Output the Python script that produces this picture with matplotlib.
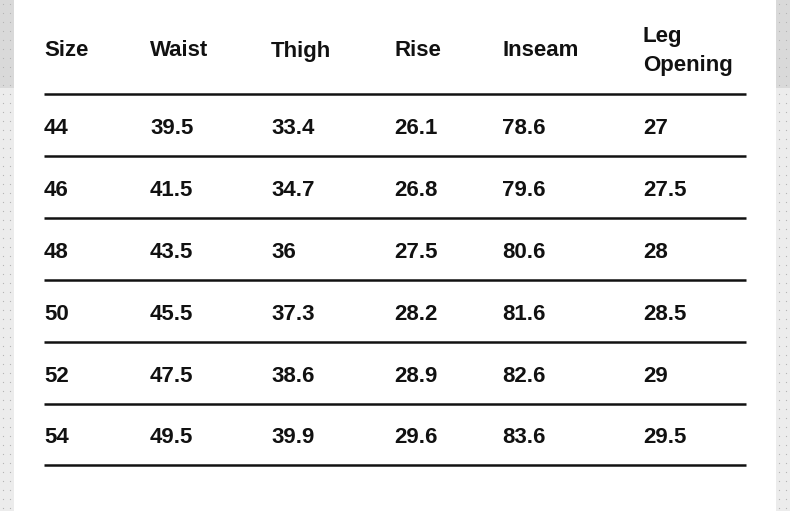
import matplotlib.pyplot as plt
from matplotlib.patches import Rectangle

headers = ["Size", "Waist", "Thigh", "Rise", "Inseam", "Leg\nOpening"]
sizes = ["44", "46", "48", "50", "52", "54"]
waist = ["39.5", "41.5", "43.5", "45.5", "47.5", "49.5"]
thigh = ["33.4", "34.7", "36", "37.3", "38.6", "39.9"]
rise = ["26.1", "26.8", "27.5", "28.2", "28.9", "29.6"]
inseam = ["78.6", "79.6", "80.6", "81.6", "82.6", "83.6"]
leg_opening = ["27", "27.5", "28", "28.5", "29", "29.5"]

W, H = 790, 511
fig = plt.figure(figsize=(W / 100, H / 100), dpi=100)
ax = fig.add_axes([0, 0, 1, 1])
ax.set_xlim(0, W)
ax.set_ylim(H, 0)
ax.axis("off")

# grey dotted side strips
for x0 in (0, 776):
    ax.add_patch(Rectangle((x0, 0), 14, 88, color="#d9d9d9", lw=0))
    ax.add_patch(Rectangle((x0, 88), 14, H - 88, color="#ececec", lw=0))
    for yy in range(4, H, 9):
        for xx in (x0 + 3, x0 + 10):
            ax.plot(xx, yy, "s", ms=0.8, color="#b5b5b5", mew=0)

col_x = [44, 150, 271, 394, 502, 643]
line_y = [94, 156, 218, 280, 342, 404, 465]
font = dict(family="Liberation Sans", weight="bold", fontsize=16, color="#111111", va="center")

for x, h in zip(col_x, headers):
    ax.text(x, 51, h, linespacing=1.5, **font)

for y in line_y:
    ax.plot([44, 746], [y, y], color="#111111", lw=1.8, solid_capstyle="butt")

columns = [sizes, waist, thigh, rise, inseam, leg_opening]
for i in range(len(sizes)):
    y = (line_y[i] + line_y[i + 1]) / 2 + 3
    for x, col in zip(col_x, columns):
        ax.text(x, y, col[i], **font)

fig.savefig("out.png", dpi=100)
